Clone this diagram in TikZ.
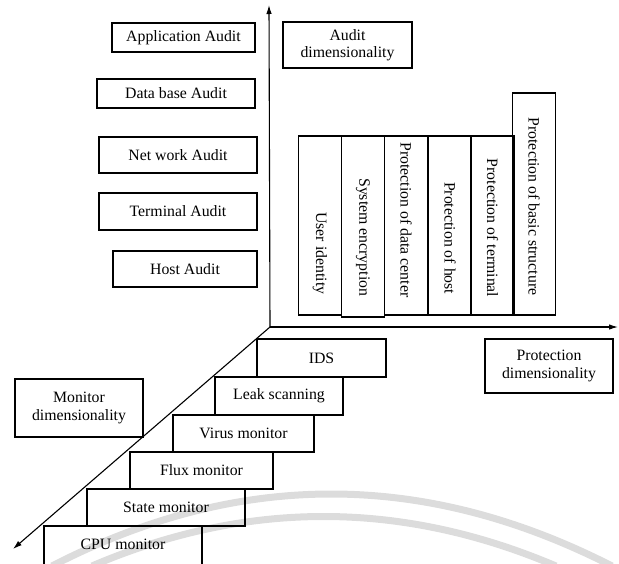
\documentclass[tikz,border=0pt]{standalone}
\usepackage{fontspec}
\setmainfont{Liberation Serif}
\usetikzlibrary{arrows.meta}
\definecolor{wmark}{HTML}{DCDCDC}
\tikzset{
  txt/.style={inner sep=0pt, align=center, font=\fontsize{15.8}{17.5}\selectfont},
  box/.style={txt, draw, line width=1.1pt},
  colbox/.style={draw, line width=1.1pt, inner sep=0pt, minimum width=43pt},
  collabel/.style={txt, rotate=-90, anchor=east},
  axis/.style={line width=1.1pt, -{Latex[length=9pt,width=5.5pt]}},
  wm/.style={line width=7pt, wmark}
}
\begin{document}
\begin{tikzpicture}[x=1pt, y=-1pt]
\useasboundingbox (0,0) rectangle (619,563);

% faint watermark arcs behind everything
\draw[wm] (52,566) .. controls (238,470) and (424,470) .. (612,566);
\draw[wm] (92,566) .. controls (246,500) and (401,500) .. (556,566);

% axes
\coordinate (o) at (270,327);
\coordinate (ytop) at (269,5);
\coordinate (xend) at (618,327);
\coordinate (zend) at (13,549);
\draw[axis] (o) -- (ytop);
\draw[axis] (o) -- (xend);
\draw[axis] (o) -- (zend);

% audit dimension
\node[box, minimum width=143pt, minimum height=29pt] (app)  at (183.5,37.5) {Application Audit};
\node[box, minimum width=158pt, minimum height=29pt] (db)   at (176,93.5)   {Data base Audit};
\node[box, minimum width=158pt, minimum height=36pt] (net)  at (178,155)    {Net work Audit};
\node[box, minimum width=158pt, minimum height=37pt] (term) at (178,211.5)  {Terminal Audit};
\node[box, minimum width=144pt, minimum height=36pt] (host) at (185,269)    {Host Audit};
\node[box, minimum width=129pt, minimum height=46pt] (adim) at (347.5,45)   {Audit\\dimensionality};

% protection dimension columns
\node[colbox, minimum height=179pt] (c1) at (320,225.5) {};
\node[colbox, minimum height=181pt] (c2) at (363,226.5) {};
\node[colbox, minimum height=179pt] (c3) at (406,225.5) {};
\node[colbox, minimum height=179pt] (c4) at (450,225.5) {};
\node[colbox, minimum height=179pt] (c5) at (492.5,225.5) {};
\node[colbox, minimum height=222pt] (c6) at (534,204) {};
\node[collabel] (l1) at ([yshift=21pt]c1.south) {User identity};
\node[collabel] (l2) at ([yshift=21pt]c2.south) {System encryption};
\node[collabel] (l3) at ([yshift=18pt]c3.south) {Protection of data center};
\node[collabel] (l4) at ([yshift=21pt]c4.south) {Protection of host};
\node[collabel] (l5) at ([yshift=18pt]c5.south) {Protection of terminal};
\node[collabel] (l6) at ([yshift=20pt]c6.south) {Protection of basic structure};
\node[box, minimum width=128pt, minimum height=54pt] (pdim) at (549,366) {Protection\\dimensionality};

% monitor dimension staircase
\node[box, minimum width=158pt, minimum height=46pt] (cpu) at (123,549) {};
\node[txt] (cpul) at (123,544) {CPU monitor};
\node[box, minimum width=158pt, minimum height=37pt] (state) at (166,507.5)   {State monitor};
\node[box, minimum width=143pt, minimum height=37pt] (flux)  at (201.5,470.5) {Flux monitor};
\node[box, minimum width=141pt, minimum height=37pt] (virus) at (243.5,433.5) {Virus monitor};
\node[box, minimum width=128pt, minimum height=38pt] (leak)  at (279,396)     {Leak scanning};
\node[box, minimum width=129pt, minimum height=38pt] (ids)   at (321.5,358)   {IDS};
\node[box, minimum width=128pt, minimum height=58pt] (mdim)  at (79,408)      {Monitor\\dimensionality};
\end{tikzpicture}
\end{document}
